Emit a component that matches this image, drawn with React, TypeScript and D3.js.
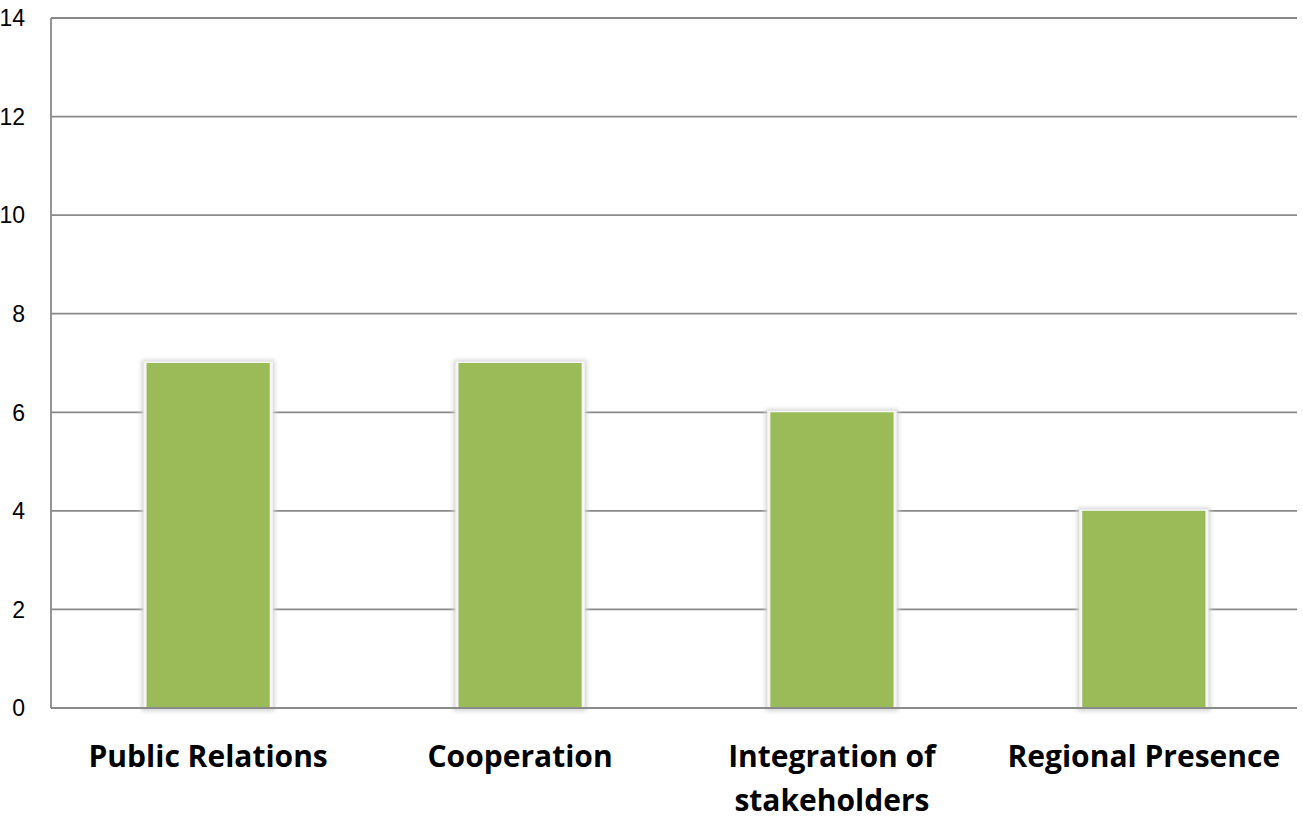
import React from "react";
import * as d3 from "d3";

const categories: string[][] = [
  ["Public Relations"],
  ["Cooperation"],
  ["Integration of", "stakeholders"],
  ["Regional Presence"],
];
const values: number[] = [7, 7, 6, 4];
const yTicks: number[] = [0, 2, 4, 6, 8, 10, 12, 14];

const W = 1303;
const H = 825;
const margin = { left: 51, right: 6, top: 18, bottom: 117 };

export default function App() {
  const x = d3
    .scaleBand<number>()
    .domain(values.map((_, i) => i))
    .range([margin.left, W - margin.right])
    .paddingInner(0.605)
    .paddingOuter(0.3);
  const y = d3
    .scaleLinear()
    .domain([0, 14])
    .range([H - margin.bottom, margin.top]);

  const gridColor = "#8a8a8a";
  const bw = x.bandwidth();

  return (
    <svg
      width={W}
      height={H}
      style={{ position: "absolute", left: 0, top: 0, display: "block", background: "#fff" }}
    >
      <defs>
        <filter id="glow" x="-20%" y="-20%" width="140%" height="140%">
          <feGaussianBlur stdDeviation="2.2" />
        </filter>
      </defs>

      {/* horizontal gridlines */}
      {yTicks.map((t) => (
        <line
          key={t}
          x1={margin.left}
          x2={W - margin.right}
          y1={y(t)}
          y2={y(t)}
          stroke={gridColor}
          strokeWidth={1.8}
        />
      ))}

      {/* y axis line */}
      <line
        x1={margin.left}
        x2={margin.left}
        y1={y(14)}
        y2={y(0)}
        stroke={gridColor}
        strokeWidth={1.8}
      />

      {/* y tick labels */}
      {yTicks.map((t) => (
        <text
          key={t}
          x={25}
          y={y(t)}
          dy="0.36em"
          textAnchor="end"
          fontFamily="Liberation Sans, Arial, sans-serif"
          fontSize={23}
          fill="#000"
        >
          {t}
        </text>
      ))}

      {/* bars with soft halo */}
      {values.map((v, i) => {
        const bx = (x(i) as number) + 2;
        const by = y(v);
        const bh = y(0) - by;
        return (
          <g key={i}>
            <rect
              x={bx - 5}
              y={by - 3}
              width={bw + 10}
              height={bh + 6}
              fill="#d4d4d4"
              filter="url(#glow)"
            />
            <rect x={bx - 3} y={by - 1.5} width={bw + 6} height={bh + 1.5} fill="#f6f6f6" />
            <rect x={bx} y={by} width={bw} height={bh} fill="#9bbb59" />
          </g>
        );
      })}

      {/* baseline over the bars */}
      <line
        x1={margin.left}
        x2={W - margin.right}
        y1={y(0)}
        y2={y(0)}
        stroke={gridColor}
        strokeWidth={1.8}
      />

      {/* category labels */}
      {categories.map((lines, i) => {
        const cx = (x(i) as number) + bw / 2 + 2;
        return (
          <text
            key={i}
            textAnchor="middle"
            fontFamily="Open Sans, sans-serif"
            fontWeight="bold"
            fontSize={30}
            fill="#000"
          >
            {lines.map((l, j) => (
              <tspan key={j} x={cx} y={767 + j * 44}>
                {l}
              </tspan>
            ))}
          </text>
        );
      })}
    </svg>
  );
}
